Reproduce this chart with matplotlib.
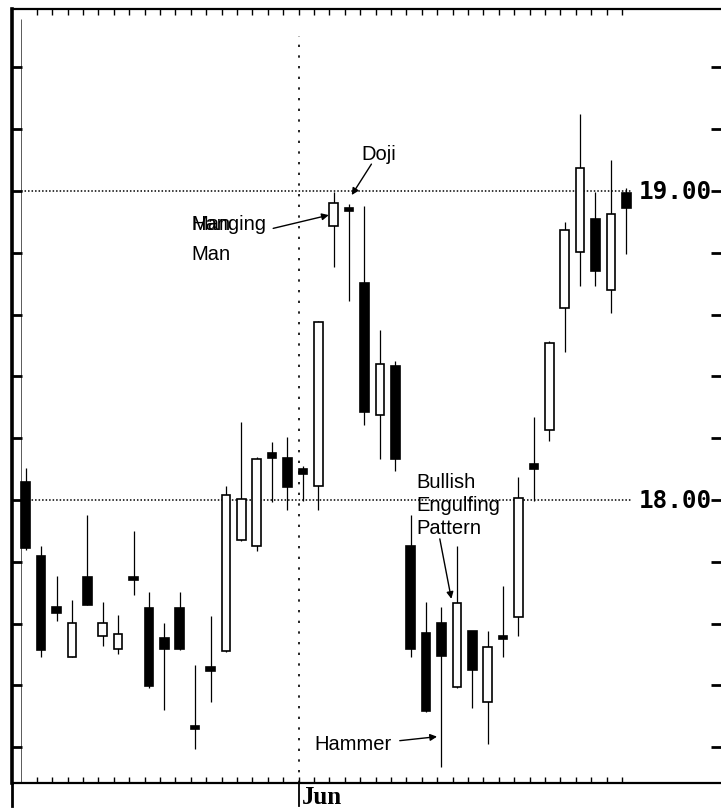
import numpy as np
import matplotlib.pyplot as plt
from matplotlib.transforms import blended_transform_factory

# daily candles (price scale in dollars)
opens = [18.058, 17.818, 17.653, 17.492, 17.752, 17.559, 17.518, 17.752, 17.650, 17.552,
         17.650, 17.270, 17.461, 17.510, 17.870, 17.852, 18.152, 18.135, 18.100, 18.046,
         18.888, 18.944, 18.701, 18.276, 18.433, 17.852, 17.569, 17.601, 17.394, 17.577,
         17.347, 17.559, 17.620, 18.117, 18.227, 18.620, 18.802, 18.909, 18.680, 18.993]
highs = [18.102, 17.852, 17.753, 17.677, 17.951, 17.669, 17.628, 17.901, 17.701, 17.602,
         17.701, 17.466, 17.626, 18.044, 18.251, 18.138, 18.187, 18.203, 18.111, 18.579,
         18.998, 18.958, 18.952, 18.550, 18.451, 17.951, 17.669, 17.653, 17.852, 17.577,
         17.577, 17.721, 18.073, 18.268, 18.516, 18.899, 19.249, 18.998, 19.101, 19.009]
lows = [17.838, 17.491, 17.609, 17.492, 17.660, 17.527, 17.502, 17.694, 17.393, 17.321,
        17.516, 17.194, 17.345, 17.508, 17.868, 17.836, 17.994, 17.969, 17.998, 17.969,
        18.753, 18.645, 18.243, 18.133, 18.095, 17.492, 17.313, 17.135, 17.392, 17.326,
        17.210, 17.493, 17.561, 17.997, 18.192, 18.478, 18.694, 18.694, 18.605, 18.796]
closes = [17.845, 17.516, 17.634, 17.602, 17.660, 17.601, 17.566, 17.742, 17.399, 17.518,
          17.518, 17.259, 17.448, 18.016, 18.003, 18.133, 18.135, 18.041, 18.084, 18.575,
          18.961, 18.936, 18.284, 18.440, 18.133, 17.518, 17.318, 17.494, 17.667, 17.450,
          17.523, 17.550, 18.006, 18.100, 18.507, 18.874, 19.073, 18.742, 18.926, 18.944]

yticks = [17.2, 17.4, 17.6, 17.8, 18.0, 18.2, 18.4, 18.6, 18.8, 19.0, 19.2, 19.4]
level_values = [18.0, 19.0]
level_labels = ['18.00', '19.00']
month_start = 18   # first session of June
month_label = 'Jun'

x = np.arange(len(opens))
o = np.array(opens)
c = np.array(closes)
down = c < o

fig = plt.figure(figsize=(7.21, 8.12), dpi=100)
ax = fig.add_axes([12 / 721, 28 / 812, 709 / 721, 774 / 812])

# wicks then bodies
ax.vlines(x, lows, highs, color='black', lw=0.9, zorder=2)
ax.bar(x, np.abs(c - o), bottom=np.minimum(o, c), width=0.55,
       color=np.where(down, 'black', 'white'), edgecolor='black', lw=1.2, zorder=3)

ax.set_xlim(-0.89, 45.15)
ax.set_ylim(17.084, 19.589)

# dotted price levels with labels on the right
for v, lab in zip(level_values, level_labels):
    ax.hlines(v, -0.28, 39.4, color='black', lw=1.1, linestyles=(0, (1, 1.3)), zorder=1)
    ax.text(0.987, v, lab, transform=blended_transform_factory(ax.transAxes, ax.transData),
            ha='right', va='center', family='DejaVu Sans Mono', fontweight='bold',
            fontsize=17.5)

# month separators
ax.vlines(-0.28, ax.get_ylim()[0], 19.557, color='0.35', lw=0.7, zorder=1)
ax.vlines(month_start - 0.28, ax.get_ylim()[0], 19.50, color='black', lw=1.2,
          linestyles=(0, (1.4, 5)), zorder=1)
bt = blended_transform_factory(ax.transData, ax.transAxes)
ax.plot([month_start - 0.28] * 2, [0, -0.03], transform=bt, color='black', lw=1.3,
        clip_on=False)
ax.plot([0, 0], [0, -0.03], transform=ax.transAxes, color='black', lw=2, clip_on=False)
ax.text(month_start - 0.05, -0.018, month_label, transform=bt, ha='left', va='center',
        family='Liberation Serif', fontweight='bold', fontsize=18)

# annotations
tkw = dict(family='Liberation Sans', fontsize=14.5, va='baseline', ha='left')
akw = dict(arrowstyle='-|>', color='black', lw=1.0, mutation_scale=10, shrinkA=0, shrinkB=0)
ax.text(21.80, 19.104, 'Doji', **tkw)
ax.annotate('', xy=(21.17, 18.987), xytext=(22.45, 19.087), arrowprops=akw)
ax.text(10.79, 18.877, 'Hanging', **tkw)
ax.text(10.79, 18.877, 'Man', **tkw)
ax.text(10.79, 18.780, 'Man', **tkw)
ax.annotate('', xy=(19.68, 18.922), xytext=(16.07, 18.879), arrowprops=akw)
ax.text(25.36, 18.042, 'Bullish', **tkw)
ax.text(25.36, 17.968, 'Engulfing', **tkw)
ax.text(25.36, 17.893, 'Pattern', **tkw)
ax.annotate('', xy=(27.64, 17.680), xytext=(26.89, 17.874), arrowprops=akw)
ax.text(18.77, 17.194, 'Hammer', **tkw)
ax.annotate('', xy=(26.71, 17.234), xytext=(24.29, 17.221), arrowprops=akw)

# axes frame and ticks
ax.set_xticks(x[1:] - 0.28)
ax.set_yticks(yticks)
ax.tick_params(axis='x', direction='in', top=True, bottom=True, length=4, width=1,
               labelbottom=False)
ax.tick_params(axis='y', direction='in', left=True, right=True, length=7, width=2,
               labelleft=False)
ax.spines['right'].set_visible(False)
ax.spines['left'].set_linewidth(2.6)
ax.spines['top'].set_linewidth(1.6)
ax.spines['bottom'].set_linewidth(1.6)

fig.savefig('out.png', dpi=100)
